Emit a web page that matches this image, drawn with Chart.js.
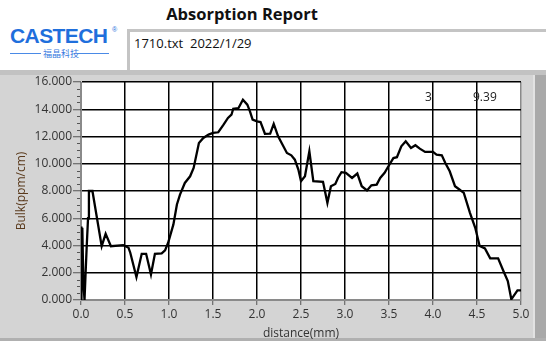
<!DOCTYPE html>
<html>
<head>
<meta charset="utf-8">
<script src="https://cdn.jsdelivr.net/npm/chart.js@4/dist/chart.umd.min.js"></script>
<style>
  body { margin: 0; width: 546px; height: 341px; background: #fff; overflow: hidden; position: relative; font-family: "Noto Sans", "Open Sans", sans-serif; }
  .title { position: absolute; left: 0; top: 2px; width: 484px; text-align: center; font: bold 16.5px "Open Sans", "Noto Sans", sans-serif; color: #111; }
  .logo { position: absolute; left: 10px; top: 24px; font: bold 21px "Liberation Sans", Arial, sans-serif; color: #1f6fdc; letter-spacing: -0.6px; }
  .reg { position: absolute; left: 112px; top: 26px; font: 7px sans-serif; color: #1f6fdc; }
  .sub { position: absolute; left: 10px; top: 47px; width: 99px; height: 12px; }
  .sub .ln { position: absolute; top: 6px; height: 1px; background: #4a8ae6; width: 31px; }
  .sub span { position: absolute; left: 33px; top: 0; font: 9px "Noto Sans CJK SC", sans-serif; color: #3a7ae0; }
  .box { position: absolute; left: 127px; top: 29px; width: 430px; height: 41px; border-top: 3px solid #c4c4c4; border-left: 3px solid #c4c4c4; background: #fff; box-sizing: border-box; }
  .box span { position: absolute; left: 4px; top: 2px; font: 13px "Open Sans", "Noto Sans", sans-serif; color: #111; }
  .panel { position: absolute; left: 0; top: 70px; width: 546px; height: 271px; background: #d4d4d4; }
  .bar { position: absolute; left: 0; top: 70px; width: 546px; height: 5px; background: #c2c2c2; }
  .stripe { position: absolute; left: 533px; top: 75px; width: 13px; height: 266px; background: #a9a9a9; border-left: 2px solid #e2e2e2; box-sizing: border-box; }
  .bottom { position: absolute; left: 0; top: 338px; width: 546px; height: 3px; background: #b0b0b0; }
  #wrap { position: absolute; left: 0; top: 70px; width: 546px; height: 271px; }
</style>
</head>
<body>
<div class="title">Absorption Report</div>
<div class="logo">CASTECH</div>
<div class="reg">®</div>
<div class="sub"><div class="ln" style="left:0"></div><span>福晶科技</span><div class="ln" style="left:68px"></div></div>
<div class="box"><span>1710.txt&nbsp;&nbsp;2022/1/29</span></div>
<div class="panel"></div>
<div class="bar"></div>
<div class="stripe"></div>
<div class="bottom"></div>
<div id="wrap"><canvas id="c" width="546" height="271"></canvas></div>
<script>
// distance (mm) and bulk absorption (ppm/cm)
const distance = [0.00, 0.005, 0.015, 0.026, 0.04, 0.053, 0.065, 0.08, 0.09, 0.13, 0.235, 0.28, 0.34, 0.48, 0.54, 0.56, 0.63, 0.69, 0.74, 0.795, 0.84, 0.917, 0.955, 0.99, 1.05, 1.09, 1.125, 1.18, 1.24, 1.28, 1.34, 1.39, 1.45, 1.5, 1.56, 1.62, 1.67, 1.71, 1.73, 1.79, 1.84, 1.89, 1.92, 1.95, 2.0, 2.04, 2.09, 2.15, 2.19, 2.24, 2.28, 2.34, 2.39, 2.43, 2.47, 2.5, 2.545, 2.595, 2.64, 2.75, 2.8, 2.84, 2.89, 2.92, 2.96, 3.01, 3.08, 3.14, 3.19, 3.25, 3.30, 3.36, 3.40, 3.45, 3.50, 3.55, 3.59, 3.64, 3.69, 3.75, 3.80, 3.85, 3.91, 4.0, 4.04, 4.10, 4.14, 4.19, 4.25, 4.30, 4.35, 4.42, 4.48, 4.53, 4.59, 4.65, 4.74, 4.80, 4.85, 4.89, 4.96, 5.0];
const bulk = [5.4, 0.0, 5.3, 1.4, 0.0, 2.1, 3.95, 6.0, 8.0, 8.0, 3.95, 4.86, 3.95, 4.03, 3.83, 3.47, 1.68, 3.39, 3.39, 1.88, 3.39, 3.42, 3.64, 4.2, 5.55, 7.01, 7.74, 8.59, 9.08, 9.69, 11.52, 11.89, 12.14, 12.26, 12.31, 12.87, 13.36, 13.6, 14.04, 14.09, 14.7, 14.34, 13.85, 13.24, 13.11, 13.06, 12.2, 12.21, 12.92, 12.01, 11.52, 10.79, 10.62, 10.3, 9.57, 8.72, 9.08, 10.91, 8.72, 8.67, 7.13, 8.35, 8.52, 8.96, 9.38, 9.33, 8.96, 9.28, 8.35, 8.04, 8.42, 8.47, 8.96, 9.33, 9.89, 10.42, 10.48, 11.28, 11.65, 11.16, 11.36, 11.11, 10.87, 10.87, 10.67, 10.62, 10.06, 9.45, 8.35, 8.11, 7.86, 6.4, 5.3, 3.96, 3.79, 3.06, 3.06, 2.13, 1.39, 0.05, 0.71, 0.71];
const cursorLabels = ['3', '9.39'];

const points = distance.map((d, i) => ({ x: d, y: bulk[i] }));

const plotBg = {
    id: 'plotBg',
    beforeDraw(chart) {
        const { ctx, chartArea: a } = chart;
        ctx.save();
        ctx.fillStyle = '#fff';
        ctx.fillRect(a.left, a.top, a.right - a.left, a.bottom - a.top);
        ctx.restore();
    },
    afterDraw(chart) {
        const { ctx, chartArea: a } = chart;
        const y = chart.scales.y;
        ctx.save();
        // minor ticks on the y axis
        ctx.strokeStyle = '#555';
        ctx.lineWidth = 1;
        for (let v = 0.5; v < 16; v += 0.5) {
            if (v % 2 === 0) continue;
            const py = Math.round(y.getPixelForValue(v)) + 0.5;
            ctx.beginPath();
            ctx.moveTo(a.left - 4, py);
            ctx.lineTo(a.left - 1, py);
            ctx.stroke();
        }
        // cursor readouts
        ctx.fillStyle = '#222';
        ctx.font = '12px "Open Sans", "Noto Sans", sans-serif';
        ctx.textBaseline = 'middle';
        ctx.fillText(cursorLabels[0], a.left + 344, a.top + 16);
        ctx.fillText(cursorLabels[1], a.left + 392, a.top + 16);
        ctx.restore();
    }
};

const gridColor = ctx => (ctx.tick && (ctx.tick.value === 0 || ctx.tick.value === 5) ? '#8a8a8a' : '#000');

new Chart(document.getElementById('c'), {
    type: 'line',
    data: {
        datasets: [{
            data: points,
            borderColor: '#000',
            borderWidth: 2.3,
            pointRadius: 0,
            tension: 0,
            fill: false
        }]
    },
    options: {
        responsive: false,
        animation: false,
        events: [],
        layout: { padding: { left: 0, right: 25, top: 12, bottom: 0 } },
        plugins: { legend: { display: false }, tooltip: { enabled: false } },
        scales: {
            x: {
                type: 'linear',
                min: 0,
                max: 5,
                afterFit: s => { s.height = 41; },
                ticks: {
                    stepSize: 0.5,
                    color: '#333',
                    padding: 2,
                    font: { family: '"Open Sans", "Noto Sans", sans-serif', size: 12 },
                    callback: v => v.toFixed(1),
                    maxRotation: 0
                },
                grid: { color: gridColor, lineWidth: 1.5, tickColor: '#555', tickLength: 5, tickWidth: 1 },
                border: { color: '#8a8a8a', width: 1 },
                title: {
                    display: true,
                    text: 'distance(mm)',
                    color: '#333',
                    padding: { top: 0, bottom: 0 },
                    font: { family: '"Open Sans", "Noto Sans", sans-serif', size: 12 }
                }
            },
            y: {
                min: 0,
                max: 16,
                afterFit: s => { s.width = 81; },
                ticks: {
                    stepSize: 2,
                    color: '#333',
                    padding: 1,
                    font: { family: '"Open Sans", "Noto Sans", sans-serif', size: 12 },
                    callback: v => v.toFixed(3)
                },
                grid: { color: c => (c.tick && c.tick.value === 0 ? '#8a8a8a' : '#000'), lineWidth: 1.5, tickColor: '#555', tickLength: 8, tickWidth: 1 },
                border: { color: '#8a8a8a', width: 1 },
                title: {
                    display: true,
                    text: 'Bulk(ppm/cm)',
                    color: '#5a3a1c',
                    padding: { top: 14, bottom: 0 },
                    font: { family: '"Open Sans", "Noto Sans", sans-serif', size: 12 }
                }
            }
        }
    },
    plugins: [plotBg]
});
</script>
</body>
</html>
